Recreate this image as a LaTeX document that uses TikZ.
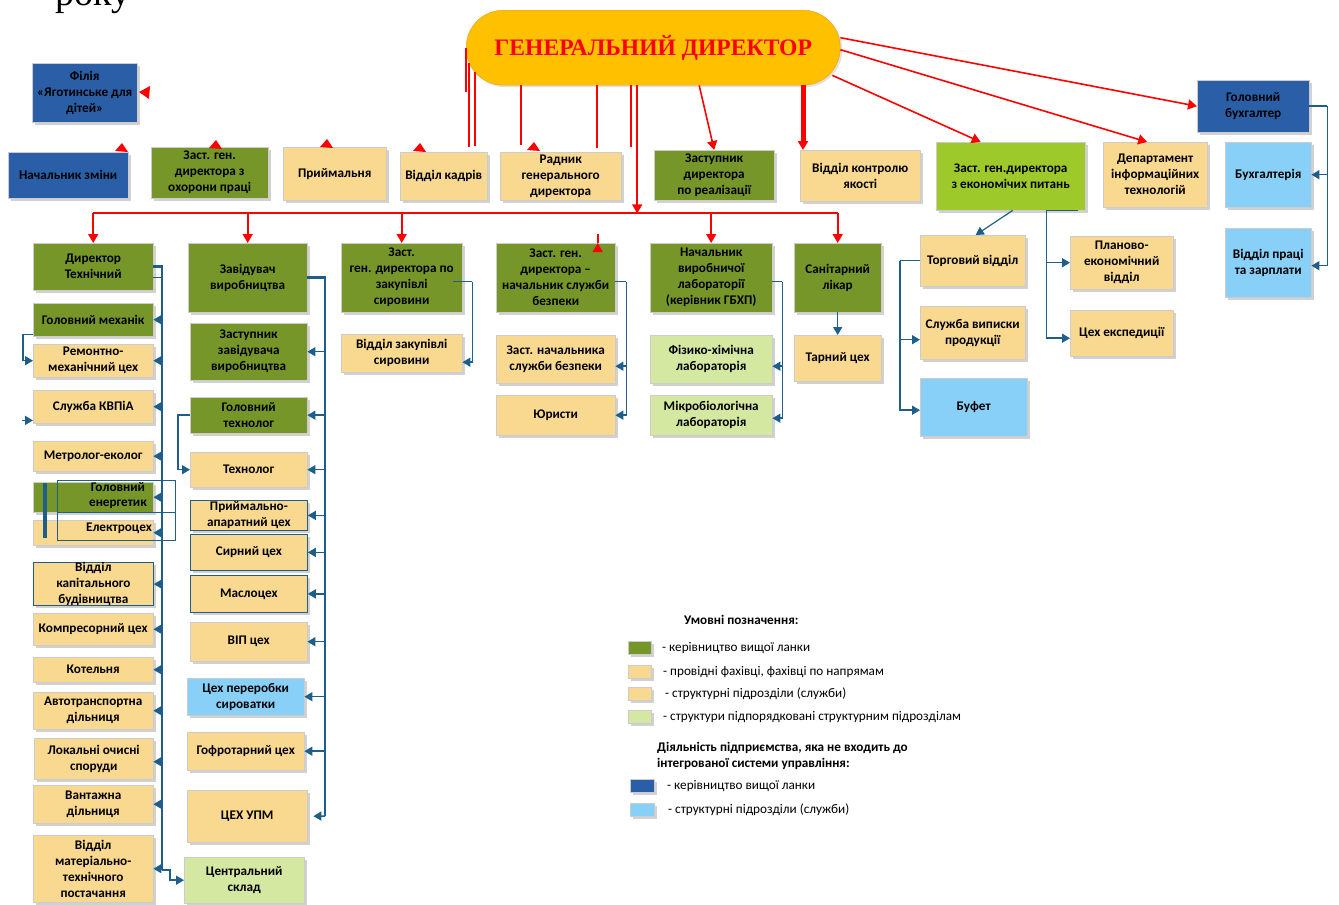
\documentclass[tikz,border=0pt]{standalone}
\usepackage{fontspec}
\setmainfont{Carlito}
\newfontfamily\serifhead{Liberation Serif}
\usetikzlibrary{arrows.meta,shadows,calc}

\definecolor{leadgreen}{HTML}{76962A}
\definecolor{unittan}{HTML}{F9D88F}
\definecolor{econgreen}{HTML}{9DC92B}
\definecolor{subgreen}{HTML}{D4E8A2}
\definecolor{extblue}{HTML}{2A5EA7}
\definecolor{extlight}{HTML}{88D0F8}
\definecolor{linkblue}{HTML}{1E5E8A}
\definecolor{gdorange}{HTML}{FFC000}
\definecolor{gdedge}{HTML}{F0A000}

% box from its top left (x1,y1) to its bottom right (x2,y2), in pixels
\newcommand{\orgbox}[7]{%
  \pgfmathsetmacro{\orgw}{#5-#3}%
  \pgfmathsetmacro{\orgh}{#6-#4}%
  \node[#2, minimum width=\orgw pt, minimum height=\orgh pt, anchor=north west] (#1) at (#3,#4) {#7};}
\newcommand{\redtip}[2]{\fill[red] (#1,#2) -- ++(6,9) -- ++(-13,-1) -- cycle;}

\tikzset{
  orgunit/.style={draw=black!20, line width=0.4pt, align=center, inner sep=0pt,
    font=\bfseries\fontsize{13.2}{16}\selectfont,
    drop shadow={shadow xshift=2.5pt, shadow yshift=-2.5pt, fill=black!45, opacity=0.4}},
  headbox/.style={orgunit, fill=leadgreen},
  deptbox/.style={orgunit, fill=unittan},
  subbox/.style={orgunit, fill=subgreen},
  econbox/.style={orgunit, fill=econgreen},
  extbox/.style={orgunit, fill=extblue},
  extunit/.style={orgunit, fill=extlight},
  outlined/.style={draw=linkblue, line width=0.8pt},
  redline/.style={draw=red, line width=1.6pt},
  redarrow/.style={redline, -{Triangle[width=10pt,length=9pt]}},
  bluelink/.style={draw=linkblue, line width=1.5pt},
  spine/.style={draw=linkblue, line width=2.6pt},
  bluearrow/.style={bluelink, -{Triangle[width=9pt,length=8pt]}},
  legendtext/.style={anchor=west, font=\fontsize{13.2}{15}\selectfont, inner sep=0pt},
}

\begin{document}
\begin{tikzpicture}[x=1pt, y=-1pt]
  \useasboundingbox (0,0) rectangle (1339,905);
  % remnant of the page text
  \node[anchor=base west, inner sep=0pt, font=\serifhead\fontsize{38}{38}\selectfont] (roku) at (55,5) {року};

  % General director
  \node[draw=gdedge, fill=gdorange, rounded corners=37pt, minimum width=374pt, minimum height=75pt,
    anchor=north west, text=red, font=\serifhead\bfseries\fontsize{23.6}{25}\selectfont,
    drop shadow={shadow xshift=2pt, shadow yshift=-2pt, fill=black!40, opacity=0.3}] (gd) at (466,10) {ГЕНЕРАЛЬНИЙ ДИРЕКТОР};

  % Top row
  \orgbox{filia}{extbox}{32}{63}{137}{122}{Філія\\«Яготинське для\\дітей»}
  \orgbox{zmina}{extbox}{8}{152}{128}{198}{Начальник зміни}
  \orgbox{ohorona}{headbox}{151}{147}{268}{198}{Заст. ген.\\директора з\\охорони праці}
  \orgbox{pryim}{deptbox}{283}{147}{386}{200}{Приймальня}
  \orgbox{kadry}{deptbox}{400}{152}{487}{200}{Відділ кадрів}
  \orgbox{radnyk}{deptbox}{500}{152}{621}{200}{Радник\\генерального\\директора}
  \orgbox{realiz}{headbox}{654}{150}{774}{200}{Заступник\\директора\\по реалізації}
  \orgbox{kontrol}{deptbox}{800}{150}{920}{201}{Відділ контролю\\якості}
  \orgbox{econ}{econbox}{936}{142}{1085}{210}{Заст. ген.директора\\з економічих питань}
  \orgbox{ditech}{deptbox}{1103}{142}{1207}{207}{Департамент\\інформаційних\\технологій}
  \orgbox{golbuh}{extbox}{1197}{80}{1309}{132}{Головний\\бухгалтер}
  \orgbox{buh}{extunit}{1225}{142}{1311}{207}{Бухгалтерія}
  \orgbox{pratsi}{extunit}{1225}{228}{1311}{297}{Відділ праці\\та зарплати}

  % Second row
  \orgbox{dtech}{headbox}{33}{243}{153}{290}{Директор\\Технічний}
  \orgbox{zavvyr}{headbox}{188}{243}{307}{312}{Завідувач\\виробництва}
  \orgbox{zakup}{headbox}{341}{243}{462}{312}{Заст.\\ген. директора по\\закупівлі\\сировини}
  \orgbox{bezpeka}{headbox}{496}{243}{615}{312}{Заст. ген.\\директора –\\начальник служби\\безпеки}
  \orgbox{lab}{headbox}{650}{243}{772}{312}{Начальник\\виробничої\\лабораторії\\(керівник ГБХП)}
  \orgbox{likar}{headbox}{794}{243}{881}{312}{Санітарний\\лікар}

  \orgbox{vzakup}{deptbox}{341}{334}{462}{372}{Відділ закупівлі\\сировини}
  \orgbox{zastbez}{deptbox}{496}{335}{615}{383}{Заст. начальника\\служби безпеки}
  \orgbox{yurysty}{deptbox}{496}{395}{615}{435}{Юристи}
  \orgbox{fizkhim}{subbox}{650}{335}{772}{383}{Фізико-хімічна\\лабораторія}
  \orgbox{mikro}{subbox}{650}{395}{772}{435}{Мікробіологічна\\лабораторія}
  \orgbox{tarnyi}{deptbox}{794}{335}{881}{381}{Тарний цех}

  \orgbox{torg}{deptbox}{920}{235}{1025}{286}{Торговий відділ}
  \orgbox{vypysky}{deptbox}{920}{306}{1025}{359}{Служба виписки\\продукції}
  \orgbox{bufet}{extunit}{920}{378}{1027}{436}{Буфет}
  \orgbox{planovo}{deptbox}{1070}{236}{1173}{289}{Планово-\\економічний\\відділ}
  \orgbox{ekspedyts}{deptbox}{1070}{310}{1173}{356}{Цех експедиції}

  % Technical director column
  \orgbox{gmech}{headbox}{33}{303}{153}{336}{Головний механік}
  \orgbox{remmech}{deptbox}{33}{344}{153}{377}{Ремонтно-\\механічний цех}
  \orgbox{kvpia}{deptbox}{33}{390}{153}{423}{Служба КВПіА}
  \orgbox{metrol}{deptbox}{33}{441}{153}{471}{Метролог-еколог}
  \orgbox{energ}{headbox}{33}{482}{153}{512}{}
  \orgbox{elektro}{deptbox}{33}{520}{153}{545}{}
  \orgbox{kapbud}{deptbox,outlined}{33}{562}{153}{603}{Відділ\\капітального\\будівництва}
  \orgbox{kompres}{deptbox}{33}{613}{153}{645}{Компресорний цех}
  \orgbox{kotel}{deptbox}{33}{657}{153}{682}{Котельня}
  \orgbox{avto}{deptbox}{33}{692}{153}{729}{Автотранспортна\\дільниця}
  \orgbox{ochysni}{deptbox}{34}{738}{153}{779}{Локальні очисні\\споруди}
  \orgbox{vantazh}{deptbox}{33}{785}{153}{823}{Вантажна\\дільниця}
  \orgbox{mtp}{deptbox}{33}{835}{153}{902}{Відділ\\матеріально-\\технічного\\постачання}
  % the shifted frame over the power engineer boxes
  \draw[linkblue, line width=0.6pt] (57,480) rectangle (175,540);
  \draw[linkblue, line width=0.6pt] (57,512) -- (175,512);
  \draw[linkblue, line width=4pt] (45,483) -- (45,538);
  \node[align=center, font=\bfseries\fontsize{13.2}{15}\selectfont] (energtxt) at (118,496) {Головний\\енергетик};
  \node[font=\bfseries\fontsize{13.2}{15}\selectfont] (elektrotxt) at (119,528) {Електроцех};

  % Production column
  \orgbox{zastzav}{headbox}{190}{323}{307}{380}{Заступник\\завідувача\\виробництва}
  \orgbox{gtech}{headbox}{190}{397}{307}{433}{Головний\\технолог}
  \orgbox{tekhnolog}{deptbox}{190}{452}{307}{487}{Технолог}
  \orgbox{pryimap}{deptbox,outlined}{190}{500}{307}{530}{Приймально-\\апаратний цех}
  \orgbox{syrnyi}{deptbox,outlined}{190}{534}{307}{570}{Сирний цех}
  \orgbox{maslo}{deptbox,outlined}{190}{575}{307}{612}{Маслоцех}
  \orgbox{vip}{deptbox}{190}{622}{307}{661}{ВІП цех}
  \orgbox{syrov}{extunit}{187}{678}{304}{715}{Цех переробки\\сироватки}
  \orgbox{hofro}{deptbox}{187}{732}{304}{770}{Гофротарний цех}
  \orgbox{upm}{deptbox}{187}{790}{307}{842}{ЦЕХ УПМ}
  \orgbox{sklad}{subbox}{184}{857}{304}{903}{Центральний\\склад}

  % Red links from the general director
  \foreach \x/\ya/\yb in {466/48/92, 469/63/147, 475/72/146, 521/85/145, 597/85/148, 631/85/147}
    \draw[redline] (\x,\ya) -- (\x,\yb);
  \redtip{122}{143}
  \redtip{216}{140}
  \redtip{327}{139}
  \redtip{420}{143}
  \redtip{534}{142}
  \fill[red] (139,92) -- (150,86) -- (149,99) -- cycle;
  \draw[redarrow] ($(gd.south)+(46,0)$) -- (realiz.north);
  \draw[redarrow, line width=5pt] ($(kontrol.north west)+(3,-65)$) -- ($(kontrol.north west)+(3,0)$);
  \draw[redarrow] ($(gd.east)+(0,-10)$) -- (golbuh.west);
  \draw[redarrow] ($(gd.east)+(0,2)$) -- ($(ditech.north)+(-8,0)$);
  \draw[redarrow] ($(gd.south east)+(-8,-10)$) -- ($(econ.north)+(-30,0)$);
  \coordinate (bus) at (92,213);
  \draw[redarrow] ($(gd.south)+(-16,0)$) -- ($(gd.south)+(-16,128)$);
  \draw[redline] (dtech.north |- bus) -- (likar.north |- bus);
  \foreach \n in {dtech,zavvyr,zakup,lab,likar}
    \draw[redarrow] (\n.north |- bus) -- (\n.north);
  \draw[redarrow] ($(bezpeka.north)+(42,0)$ |- bus) -- ($(bezpeka.north)+(42,0)$);

  % Technical director links
  \coordinate (sp1) at (162,267);
  \coordinate (sp1end) at (162,870);
  \draw[spine] (dtech.east) -- (sp1 |- dtech.east) -- (sp1end);
  \draw[bluelink] ($(dtech.east)+(0,11)$) -- ++(9,0);
  \foreach \n in {gmech,remmech,kvpia,metrol,energ,elektro,kapbud,kompres,kotel,avto,vantazh,mtp}
    \draw[bluearrow] (sp1 |- \n.east) -- (\n.east);
  \draw[bluearrow] (sp1 |- {$(ochysni.east)+(0,3)$}) -- ($(ochysni.east)+(0,3)$);
  \draw[bluearrow] (sp1end) -- ++(8,0) |- (sklad.west);
  \draw[bluearrow] ($(gmech.south west)+(0,-2)$) -- ++(-10,0) |- (remmech.west);
  \draw[bluearrow] ($(kvpia.south west)+(-11,-3)$) -- ($(kvpia.south west)+(0,-3)$);

  % Production links
  \coordinate (sp2) at (325,278);
  \coordinate (sp2end) at (325,816);
  \draw[spine] (zavvyr.east) -- (sp2 |- zavvyr.east) -- (sp2end);
  \foreach \n in {zastzav,gtech,tekhnolog,pryimap,syrnyi,maslo,vip,syrov,hofro}
    \draw[bluearrow] (sp2 |- \n.east) -- (\n.east);
  \draw[bluearrow] (sp2end) -- ($(upm.east)+(6,0)$);
  \draw[bluearrow] (gtech.west) -- ++(-12,0) |- (tekhnolog.west);

  % Other deputies
  \draw[bluelink] ($(zakup.east)+(-9,4)$) -- ++(19,0) coordinate (zk);
  \draw[bluearrow] (zk) |- ($(vzakup.east)+(0,9)$);
  \draw[bluelink] ($(bezpeka.east)+(0,4)$) -- ++(11,0) coordinate (bz);
  \draw[bluearrow] (bz) |- ($(zastbez.east)+(0,7)$);
  \draw[bluearrow] (bz) |- (yurysty.east);
  \draw[bluelink] ($(lab.east)+(0,4)$) -- ++(10,0) coordinate (lb);
  \draw[bluearrow] (lb) |- ($(fizkhim.east)+(0,7)$);
  \draw[bluearrow] (lb) |- ($(mikro.east)+(0,3)$);
  \draw[bluearrow] (likar.south) -- (tarnyi.north);

  % Economics and accounting
  \draw[bluearrow, line width=1.2pt] ($(econ.south)+(2,0)$) -- ($(torg.north)+(3,0)$);
  \draw[bluelink] (torg.west) -- ++(-20,0) coordinate (tl);
  \draw[bluearrow] (tl) |- ($(vypysky.west)+(0,7)$);
  \draw[bluearrow] (tl) |- ($(bufet.west)+(0,3)$);
  \draw[bluelink] ($(econ.south east)+(-7,0)$) -- ++(-32,0) coordinate (el);
  \draw[bluearrow] (el) |- (planovo.west);
  \draw[bluearrow] (el) |- ($(ekspedyts.west)+(0,5)$);
  \draw[bluelink] (golbuh.east) -- ++(18,0) coordinate (gb);
  \draw[bluearrow] (gb) |- (buh.east);
  \draw[bluearrow] (gb) |- ($(pratsi.east)+(0,3)$);

  % Legend
  \node[anchor=west, inner sep=0pt, font=\bfseries\fontsize{13.2}{15}\selectfont] (legtitle) at (684,620) {Умовні позначення:};
  \foreach \sw/\y/\tx/\txt in {headbox/648/662/{- керівництво вищої ланки},
      deptbox/672/663/{- провідні фахівці, фахівці по напрямам},
      deptbox/694/665/{- структурні підрозділи (служби)},
      subbox/717/663/{- структури підпорядковані структурним підрозділам}} {
    \node[\sw, minimum width=23pt, minimum height=13pt] (sw\y) at (640,\y) {};
    \node[legendtext] (lt\y) at (\tx,\y) {\txt};
  }
  \node[anchor=north west, inner sep=0pt, align=left, font=\bfseries\fontsize{13.2}{16}\selectfont] (legext) at (657,742)
    {Діяльність підприємства, яка не входить до\\інтегрованої системи управління:};
  \foreach \sw/\y/\tx/\txt in {extbox/786/667/{- керівництво вищої ланки},
      extunit/810/668/{- структурні підрозділи (служби)}} {
    \node[\sw, minimum width=24pt, minimum height=13pt] (sw\y) at (642,\y) {};
    \node[legendtext] (lt\y) at (\tx,\y) {\txt};
  }
\end{tikzpicture}
\end{document}
